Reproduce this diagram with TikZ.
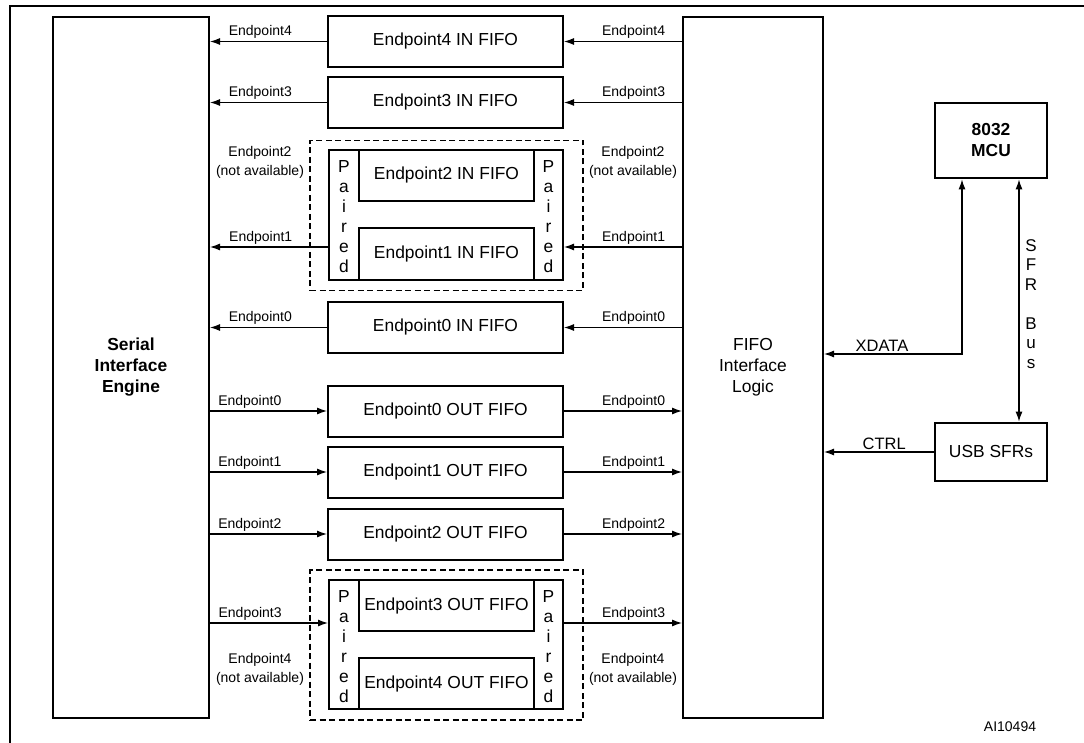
\documentclass[tikz,border=0pt]{standalone}
\usepackage{fontspec}
\setmainfont{Liberation Sans}
\usetikzlibrary{arrows.meta}

\begin{document}
\begin{tikzpicture}[x=1pt, y=-1pt,
    box/.style={draw, line width=2pt, minimum width=235pt, minimum height=51pt, inner sep=0pt, font=\fontsize{17.4}{20}\selectfont},
    bigbox/.style={draw, line width=2pt, minimum width=156pt, minimum height=701pt, align=center, font=\fontsize{17.4}{21}\selectfont},
    cpu/.style={draw, line width=2.8pt, minimum width=112pt, align=center, font=\fontsize{17.4}{21}\selectfont},
    grp/.style={draw, line width=1.8pt, dash pattern=on 6pt off 3.5pt, minimum width=273pt, minimum height=150pt},
    pairtxt/.style={align=center, inner sep=0pt, font=\fontsize{17.4}{20}\selectfont},
    lbl/.style={align=center, inner sep=2pt, font=\fontsize{14}{19}\selectfont},
    arr/.style={line width=1.2pt, -{Latex[length=10pt, width=7pt]}},
    darr/.style={line width=1.2pt, {Latex[length=10pt, width=7pt]}-{Latex[length=10pt, width=7pt]}}
]
    \useasboundingbox (0,0) rectangle (1084,743);

    % Figure frame (open on the right and at the bottom)
    \draw[line width=2.5pt] (10,743) -- (10,6) -- (1084,6);

    % The two big blocks
    \node[bigbox, font=\fontsize{17.4}{21}\selectfont\bfseries] (sie) at (131,367.5) {Serial\\Interface\\Engine};
    \node[bigbox, minimum width=140pt] (fil) at (753,367.5) {FIFO\\Interface\\Logic};

    % Single IN FIFOs
    \foreach \n/\y in {4/41.5, 3/102.5, 0/327.5} {
        \node[box] (in\n) at (445.5,\y) {Endpoint\n\ IN FIFO};
        \draw[arr] (fil.west |- in\n.east) -- (in\n.east) node[lbl, pos=0.41, above] (rin\n) {Endpoint\n};
        \draw[arr] (in\n.west) -- (sie.east |- in\n.west) node[lbl, pos=0.57, above] (lin\n) {Endpoint\n};
    }

    % Single OUT FIFOs
    \foreach \n/\y in {0/411, 1/472, 2/534} {
        \node[box] (out\n) at (445.5,\y) {Endpoint\n\ OUT FIFO};
        \draw[arr] (sie.east |- out\n.west) -- (out\n.west) node[lbl, pos=0.34, above] (lout\n) {Endpoint\n};
        \draw[arr] (out\n.east) -- (fil.west |- out\n.east) node[lbl, pos=0.59, above] (rout\n) {Endpoint\n};
    }

    % Paired IN FIFOs (Endpoint2 / Endpoint1)
    \node[grp] (gin) at (446.5,215.5) {};
    \node[draw, line width=2pt, minimum width=234pt, minimum height=130pt] (pin) at (446,215) {};
    \node[box, minimum width=175pt] (in2) at (446.5,175.5) {Endpoint2 IN FIFO};
    \node[box, minimum width=175pt, minimum height=52pt] (in1) at (446.5,254) {Endpoint1 IN FIFO};
    \node[pairtxt] (pinl) at (344,217) {P\\a\\i\\r\\e\\d};
    \node[pairtxt] (pinr) at (548.5,217) {P\\a\\i\\r\\e\\d};
    \coordinate (a1) at (0,247);
    \draw[arr] (fil.west |- a1) -- (pin.east |- a1) node[lbl, pos=0.41, above] (rin1) {Endpoint1};
    \draw[arr] (pin.west |- a1) -- (sie.east |- a1) node[lbl, pos=0.57, above] (lin1) {Endpoint1};
    \node[lbl] (na2l) at (260,162.5) {Endpoint2\\(not available)};
    \node[lbl] (na2r) at (633,162.5) {Endpoint2\\(not available)};

    % Paired OUT FIFOs (Endpoint3 / Endpoint4)
    \node[grp] (gout) at (446.5,645) {};
    \node[draw, line width=2pt, minimum width=234pt, minimum height=129pt] (pout) at (446,644.5) {};
    \node[box, minimum width=175pt] (out3) at (446.5,605.5) {Endpoint3 OUT FIFO};
    \node[box, minimum width=175pt] (out4) at (446.5,683.5) {Endpoint4 OUT FIFO};
    \node[pairtxt] (poutl) at (344,647) {P\\a\\i\\r\\e\\d};
    \node[pairtxt] (poutr) at (548.5,647) {P\\a\\i\\r\\e\\d};
    \coordinate (a3) at (0,623);
    \draw[arr] (sie.east |- a3) -- (pout.west |- a3) node[lbl, pos=0.34, above] (lout3) {Endpoint3};
    \draw[arr] (pout.east |- a3) -- (fil.west |- a3) node[lbl, pos=0.59, above] (rout3) {Endpoint3};
    \node[lbl] (na4l) at (260,669) {Endpoint4\\(not available)};
    \node[lbl] (na4r) at (633,669) {Endpoint4\\(not available)};

    % MCU side
    \node[cpu, minimum height=75pt, font=\fontsize{17.4}{21}\selectfont\bfseries] (mcu) at (991,140.5) {8032\\MCU};
    \node[cpu, minimum height=58pt] (usb) at (991,452) {USB SFRs};

    % XDATA, SFR bus and CTRL
    \coordinate (xd) at (962,354);
    \draw[darr] (fil.east |- xd) -- node[lbl, pos=0.42, above, font=\fontsize{16.5}{19}\selectfont] (xdl) {XDATA} (xd) -- (xd |- mcu.south);
    \coordinate (sb) at (1019,300);
    \draw[darr] (sb |- mcu.south) -- (sb |- usb.north);
    \node[pairtxt, font=\fontsize{17}{19.5}\selectfont] (sfr) at (1031,304) {S\\F\\R\\\mbox{}\\B\\u\\s};
    \draw[arr] (usb.west) -- (fil.east |- usb.west) node[lbl, pos=0.45, above, font=\fontsize{16.5}{19}\selectfont] (ctl) {CTRL};

    \node[lbl] (ai) at (1010,727) {AI10494};
\end{tikzpicture}
\end{document}
